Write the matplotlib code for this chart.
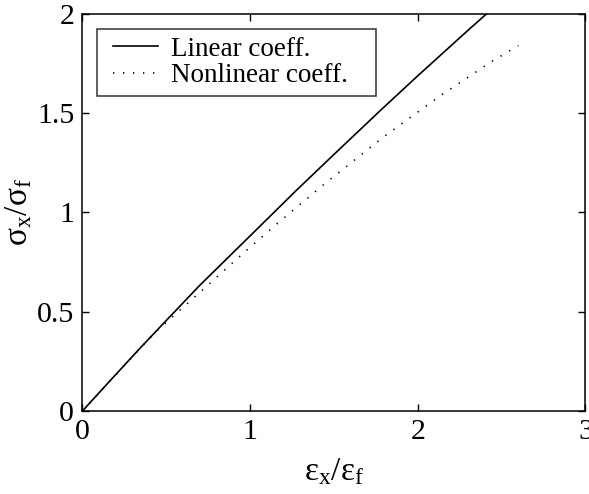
import matplotlib
matplotlib.use("Agg")
import matplotlib.pyplot as plt
from matplotlib.legend_handler import HandlerLine2D

plt.rcParams['font.family'] = ['Liberation Serif', 'DejaVu Serif']
plt.rcParams['mathtext.fontset'] = 'custom'
plt.rcParams['mathtext.rm'] = 'Liberation Serif'
plt.rcParams['mathtext.it'] = 'Liberation Serif:italic'

# Data
linear_x = [0, 0.15, 0.343, 0.5, 0.701, 1.0, 1.278, 1.5, 1.775, 2.0, 2.302, 2.41]
linear_y = [0, 0.139, 0.316, 0.456, 0.634, 0.882, 1.113, 1.292, 1.512, 1.688, 1.919, 2.0]
nonlin_x = [0, 0.3, 0.438, 0.705, 0.97, 1.165, 1.437, 1.791, 2.133, 2.435, 2.6]
nonlin_y = [0, 0.276, 0.40, 0.601, 0.803, 0.946, 1.139, 1.377, 1.587, 1.757, 1.84]
x_ticks = [0, 1, 2, 3]
x_ticklabels = ['0', '1', '2', '3']
y_ticks = [0, 0.5, 1, 1.5, 2]
y_ticklabels = ['0', '0.5', '1', '1.5', '2']

fig = plt.figure(figsize=(5.89, 4.94), dpi=100)
ax = fig.add_axes([0.140, 0.168, 0.854, 0.804])

l1, = ax.plot(linear_x, linear_y, color='black', linewidth=1.2, label='Linear coeff.')
l2, = ax.plot(nonlin_x, nonlin_y, color='black', linewidth=1.2,
              linestyle=(0, (0.8, 5.2)), label='Nonlinear coeff.')

ax.set_xlim(0, 3)
ax.set_ylim(0, 2)
ax.set_xticks(x_ticks)
ax.set_xticklabels(x_ticklabels)
ax.set_yticks(y_ticks)
ax.set_yticklabels(y_ticklabels)
ax.tick_params(direction='in', top=True, right=True, labelsize=21.5,
               length=5, width=1.0, pad=6)
for s in ax.spines.values():
    s.set_linewidth(1.1)

ax.set_xlabel(r'$\mathrm{ε_x/ε_f}$', fontsize=24, labelpad=8)
ax.set_ylabel(r'$\mathrm{σ_x/σ_f}$', fontsize=24, labelpad=2)

leg = ax.legend([l1, l2], ['Linear coeff.', 'Nonlinear coeff.   '],
                loc='upper left', fontsize=19.5, frameon=True, fancybox=False,
                edgecolor='black', handlelength=1.93, handletextpad=0.48,
                borderpad=0.3, labelspacing=0.05, borderaxespad=0.55,
                handler_map={l1: HandlerLine2D(xpad=0.26), l2: HandlerLine2D(xpad=0.26)})
leg.get_frame().set_linewidth(1.1)

fig.savefig('out.png', dpi=100)
